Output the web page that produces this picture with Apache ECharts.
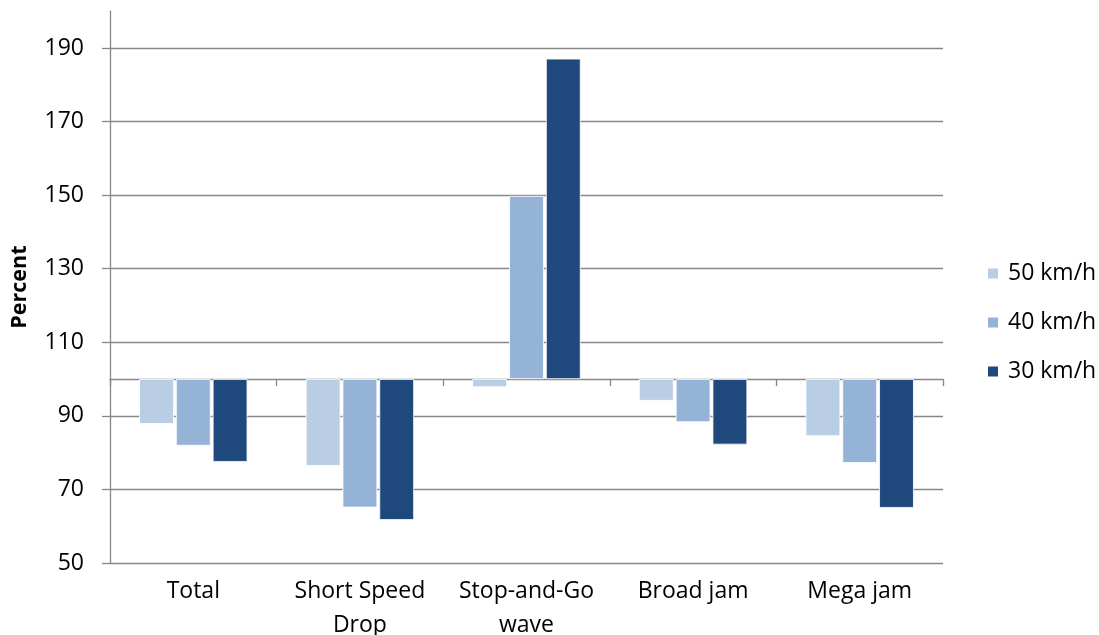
<!DOCTYPE html>
<html>
<head>
<meta charset="utf-8">
<title>Percent by speed limit</title>
<script src="https://cdn.jsdelivr.net/npm/echarts@6/dist/echarts.min.js"></script>
<style>
  html, body { margin: 0; padding: 0; background: #ffffff; }
  #chart { width: 1099px; height: 635px; }
</style>
</head>
<body>
<div id="chart"></div>
<script>
// Categories along the x axis
const categories = ['Total', 'Short Speed\nDrop', 'Stop-and-Go\nwave', 'Broad jam', 'Mega jam'];

// Series names and values (percent)
const seriesNames = ['50 km/h', '40 km/h', '30 km/h'];
const speed50 = [87.8, 76.4, 97.8, 94.1, 84.5];
const speed40 = [81.9, 65.1, 149.8, 88.3, 77.2];
const speed30 = [77.5, 61.7, 187.1, 82.2, 65.0];

// Tick labels on the value axis
const yTicks = [50, 70, 90, 110, 130, 150, 170, 190];

// Bars grow from the 100 % reference line
const BASE = 100;
const Y_MIN = 50;
const Y_MAX = 200;

const colors = ['#b9cde5', '#95b3d7', '#1f497d'];
const gridColor = '#888888';
const font = '"Open Sans", "Noto Sans", sans-serif';

const chart = echarts.init(document.getElementById('chart'), null, { renderer: 'canvas' });

const rel = v => +(v - BASE).toFixed(4);
const valueSets = [speed50, speed40, speed30];

const option = {
  animation: false,
  backgroundColor: '#ffffff',
  textStyle: { fontFamily: font },
  grid: {
    left: 110, right: 156, top: 11.2, bottom: 72,
    containLabel: false,
    outerBoundsMode: 'none'
  },
  legend: {
    orient: 'vertical',
    left: 981,
    top: 257,
    itemWidth: 12,
    itemHeight: 12,
    itemGap: 26,
    icon: 'rect',
    data: seriesNames,
    textStyle: { fontFamily: font, fontSize: 23, color: '#000000', padding: [0, 0, 0, 4] }
  },
  xAxis: [
    {
      // axis line at the 100 % reference with category ticks
      type: 'category',
      data: categories,
      position: 'bottom',
      axisLine: { show: true, onZero: true, lineStyle: { color: gridColor, width: 1.3 } },
      axisTick: { show: true, length: 7, lineStyle: { color: gridColor, width: 1.3 } },
      axisLabel: { show: false },
      splitLine: { show: false }
    },
    {
      // category labels along the bottom edge
      type: 'category',
      data: categories,
      position: 'bottom',
      axisLine: { show: false, onZero: false },
      axisTick: { show: false },
      axisLabel: {
        show: true,
        interval: 0,
        hideOverlap: false,
        margin: 11,
        fontFamily: font,
        fontSize: 23,
        lineHeight: 34,
        color: '#000000'
      },
      splitLine: { show: false }
    }
  ],
  yAxis: {
    type: 'value',
    min: rel(Y_MIN),
    max: rel(Y_MAX),
    name: 'Percent',
    nameLocation: 'middle',
    nameGap: 79,
    nameRotate: 90,
    nameTextStyle: { fontFamily: font, fontSize: 21.5, fontWeight: 'bold', color: '#000000' },
    axisLine: { show: true, lineStyle: { color: gridColor, width: 1.3 } },
    axisTick: {
      show: true,
      length: 8,
      customValues: yTicks.map(rel),
      lineStyle: { color: gridColor, width: 1.3 }
    },
    axisLabel: {
      margin: 26,
      fontFamily: font,
      fontSize: 23,
      color: '#000000',
      customValues: yTicks.map(rel),
      formatter: v => String(Math.round(v + BASE))
    },
    splitLine: { show: true, lineStyle: { color: gridColor, width: 1.3 } }
  },
  series: seriesNames.map((name, i) => ({
    name: name,
    type: 'bar',
    xAxisIndex: 0,
    barCategoryGap: '35%',
    barGap: '6%',
    itemStyle: { color: colors[i], borderColor: '#ffffff', borderWidth: 0.8 },
    data: valueSets[i].map(rel)
  }))
};

chart.setOption(option);
</script>
</body>
</html>
